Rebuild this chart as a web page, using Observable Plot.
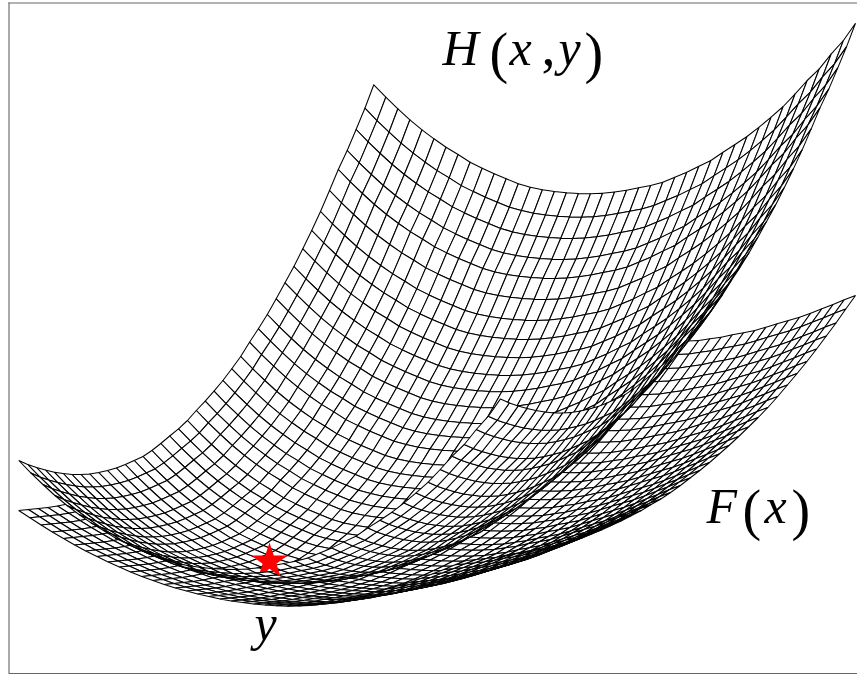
<!DOCTYPE html>
<html><head><meta charset="utf-8">
<style>html,body{margin:0;padding:0;background:#fff}svg{display:block}</style>
<script src="https://cdn.jsdelivr.net/npm/d3@7"></script>
<script src="https://cdn.jsdelivr.net/npm/@observablehq/plot@0.6"></script>
</head><body><div id="chart"></div>
<script>
// Edge profiles. Both sheets are z = a(u) + b(v) surfaces,
// so the far edges give every crossing of the wireframe.
const hTopX=[373.3,385.3,397.4,409.4,421.5,433.5,445.5,457.6,469.6,481.7,493.7,505.7,517.8,529.8,541.9,553.9,565.9,578,590,602.1,614.1,626.1,638.2,650.2,662.3,674.3,686.3,698.4,710.4,722.5,734.5,746.5,758.6,770.6,782.7,794.7,806.7,818.8,830.8,842.9,855];
const hTopY=[84.3,96.7,108.3,119.3,129.3,138.3,146.7,154,161.7,167.7,173.3,178.3,183.3,186.7,189.3,191,192.3,193,193.3,192.8,191.5,189.7,187.3,185,181.7,176.7,171.7,165.7,160,151.7,144,136,126.7,116.7,106,93.3,80,68.3,53.3,40,22.7];
const hLeftX=[373.3,364.4,355.6,346.7,337.8,329,320,311.2,302.3,293.4,284.5,275.7,266.8,257.9,249,240.2,231.3,222.4,213.5,204.7,195.8,186.9,178,169.2,160.3,151.4,142.5,133.7,124.8,115.9,107,98.2,89.3,80.4,71.5,62.7,53.8,44.9,36,27.2,18.3];
const hLeftY=[84.3,107.7,129,150,169,190,211,230,248.3,266,282.3,298.3,314,328.3,341.7,356,368.3,380,390.7,400.7,410,420,428.3,435.5,443,450,456,460,464,467.5,470,472,473.5,474,474,473,471.7,469.5,467,464,460];
const fTopX=[407.4,418.6,429.8,441,452.2,463.4,474.5,485.7,496.9,508.1,519.3,530.5,541.7,552.9,564.1,575.3,586.4,597.6,608.8,620,631.2,642.4,653.6,664.8,676,687.2,698.3,709.5,720.7,731.9,743.1,754.3,765.5,776.7,787.9,799.1,810.2,821.4,832.6,843.8,855];
const fTopY=[245,252.3,259.5,266.5,273,279.5,285.5,291,296.5,301.5,306.5,311,315,319,322.5,325.5,328.5,331,333.5,335.5,337,338.5,339.5,340.3,340.7,340.5,340,338.3,336.7,334.3,332.3,330,326.7,323.3,320,316.7,312.7,308.3,304,299.3,295];
const fLeftX=[407.4,397.7,387.9,378.2,368.5,358.8,349,339.3,329.6,319.8,310.1,300.4,290.6,280.9,271.2,261.5,251.7,242,232.3,222.5,212.8,203.1,193.3,183.6,173.9,164.2,154.4,144.7,135,125.2,115.5,105.8,96,86.3,76.6,66.9,57.1,47.4,37.7,27.9,18.2];
const fLeftY=[245,258.5,272.5,285.5,298.5,311,323,334.5,346,357,367,376.5,386,395,403.5,412,420,427.5,435,442,448.5,454,460,465,470,474.5,479,483,487,490,493,495.5,498,500,502,503.5,505.5,507,508,509,510];
const starPoint={x:269,y:561};
const letters=[
 {t:"H",x:442,y:64},{t:"x",x:509,y:64},{t:"y",x:558,y:64},
 {t:"F",x:706,y:522},{t:"x",x:764,y:522},
 {t:"y",x:254,y:639}
];
const marks=[
 {t:"(",x:489,y:71},{t:",",x:541,y:64},{t:")",x:584,y:71},
 {t:"(",x:742,y:528},{t:")",x:791,y:528}
];
const frameV=[{x:8.5,y1:2.5,y2:673}];
const frameH=[{y:2.5,x1:8.5,x2:857},{y:673,x1:8.5,x2:857}];

function cells(tx,ty,lx,ly,tag,keep){
  const sx=tx[0],sy=ty[0];
  const P=(i,j)=>[tx[i]+lx[j]-sx,ty[i]+ly[j]-sy];
  const order=[];
  for(let i=0;i<40;i++)for(let j=0;j<40;j++)if(keep(i,j))order.push([i,j]);
  order.sort((a,b)=>(a[0]+a[1])-(b[0]+b[1]));
  const rows=[];
  for(const [i,j] of order){
    const id=tag+"-"+i+"-"+j;
    for(const [a,b] of [[i,j],[i+1,j],[i+1,j+1],[i,j+1],[i,j]]){
      const [px,py]=P(a,b);rows.push({id,px,py});
    }
  }
  return rows;
}
const sheet=r=>Plot.line(r,{x:"px",y:"py",z:"id",fill:"white",stroke:"#000",strokeWidth:1.05,strokeLinejoin:"miter",curve:"linear"});
const fCells=cells(fTopX,fTopY,fLeftX,fLeftY,"f",()=>true);
const hAll=cells(hTopX,hTopY,hLeftX,hLeftY,"h",()=>true);
const hOverStar=cells(hTopX,hTopY,hLeftX,hLeftY,"n",(i,j)=>j===38&&i>=18&&i<=19);

const chart=Plot.plot({width:857,height:674,margin:0,
  x:{domain:[0,857],range:[0,857],axis:null},
  y:{domain:[0,674],range:[0,674],axis:null},
  marks:[
    Plot.ruleX(frameV,{x:"x",y1:"y1",y2:"y2",stroke:"#555",strokeWidth:1}),
    Plot.ruleY(frameH,{y:"y",x1:"x1",x2:"x2",stroke:"#666",strokeWidth:1}),
    sheet(fCells),sheet(hAll),
    Plot.dot([starPoint],{x:"x",y:"y",symbol:"star",r:11.4,fill:"#ff0000",stroke:"none"}),
    sheet(hOverStar),
    Plot.text(letters,{x:"x",y:"y",text:"t",textAnchor:"start",lineAnchor:"bottom",fontFamily:"Liberation Serif",fontStyle:"italic",fontSize:50,fill:"#000"}),
    Plot.text(marks,{x:"x",y:"y",text:"t",textAnchor:"start",lineAnchor:"bottom",fontFamily:"Liberation Serif",fontSize:56,fill:"#000"})
  ]});
document.getElementById("chart").appendChild(chart);
</script></body></html>
